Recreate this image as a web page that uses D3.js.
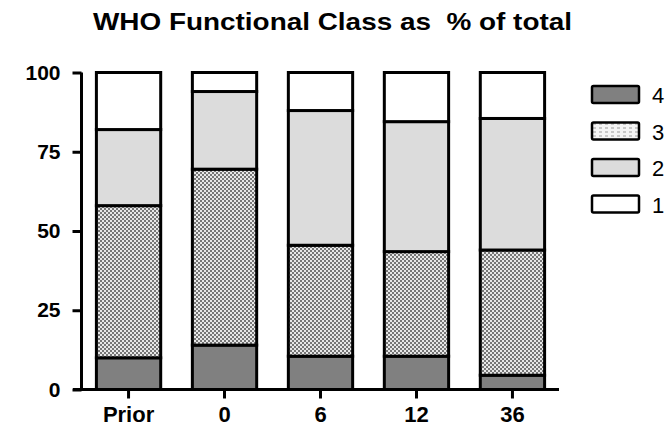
<!DOCTYPE html>
<html>
<head>
<meta charset="utf-8">
<script src="https://cdn.jsdelivr.net/npm/d3@7"></script>
<style>
  body { margin: 0; background: #fff; }
  svg { display: block; font-family: 'Liberation Sans', Arial, sans-serif; }
</style>
</head>
<body>
<svg id="chart" width="670" height="428"></svg>
<script>
const categories = ['Prior', '0', '6', '12', '36'];
const classKeys = ['4', '3', '2', '1'];
// segment sizes (% of total), stacked bottom-up: class 4, 3, 2, 1
const class4 = [10, 14, 10.5, 10.5, 4.5];
const class3 = [48, 55.5, 35, 33, 39.5];
const class2 = [24, 24.5, 42.5, 41, 41.5];
const class1 = [18, 6, 12, 15.5, 14.5];
const yTicks = [0, 25, 50, 75, 100];

const rows = categories.map((c, i) => ({
  label: c,
  '4': class4[i],
  '3': class3[i],
  '2': class2[i],
  '1': class1[i],
}));

const svg = d3.select('#chart');
const defs = svg.append('defs');

// checkerboard for class 3 bars
const checker = defs.append('pattern')
  .attr('id', 'checker')
  .attr('width', 4).attr('height', 4)
  .attr('patternUnits', 'userSpaceOnUse');
checker.append('rect').attr('width', 4).attr('height', 4).attr('fill', '#e8e8e8');
checker.append('rect').attr('width', 2).attr('height', 2).attr('fill', '#777');
checker.append('rect').attr('x', 2).attr('y', 2).attr('width', 2).attr('height', 2).attr('fill', '#777');

// dashed dots for legend swatch 3
const dots = defs.append('pattern')
  .attr('id', 'dots')
  .attr('width', 6).attr('height', 4)
  .attr('patternUnits', 'userSpaceOnUse');
dots.append('rect').attr('width', 6).attr('height', 4).attr('fill', '#f4f4f4');
dots.append('rect').attr('x', 1).attr('y', 1).attr('width', 3).attr('height', 1).attr('fill', '#9a9a9a');

const fills = {
  '4': '#808080',
  '3': 'url(#checker)',
  '2': '#dcdcdc',
  '1': '#ffffff',
};
const legendFills = { ...fills, '3': 'url(#dots)' };

const x = d3.scaleBand().domain(categories).range([82, 559])
  .paddingInner(0.33).paddingOuter(0.15);
const y = d3.scaleLinear().domain([0, 100]).range([389.5, 72.5]);

svg.append('text')
  .attr('x', 93)
  .attr('y', 30)
  .attr('font-size', 24)
  .attr('font-weight', 'bold')
  .attr('textLength', 479)
  .attr('lengthAdjust', 'spacingAndGlyphs')
  .style('white-space', 'pre')
  .text('WHO Functional Class as  % of total');

const stack = d3.stack().keys(classKeys)(rows);

svg.append('g')
  .selectAll('g')
  .data(stack)
  .join('g')
  .attr('fill', (s) => fills[s.key])
  .selectAll('rect')
  .data((s) => s)
  .join('rect')
  .attr('x', (d) => x(d.data.label))
  .attr('y', (d) => y(d[1]))
  .attr('width', x.bandwidth())
  .attr('height', (d) => y(d[0]) - y(d[1]))
  .attr('stroke', '#000')
  .attr('stroke-width', 3);

// y axis
const yAxis = svg.append('g')
  .attr('transform', 'translate(81.5,0)')
  .call(d3.axisLeft(y).tickValues(yTicks).tickSize(9).tickPadding(12));
yAxis.select('.domain').attr('d', `M0,${y(100)}V${y(0)}`).attr('stroke-width', 3);
yAxis.selectAll('.tick line').attr('stroke-width', 3);
yAxis.selectAll('.tick text')
  .attr('font-size', 21).attr('font-weight', 'bold')
  .attr('font-family', "'Liberation Sans', Arial, sans-serif")
  .attr('fill', '#000');

// x axis
const xAxis = svg.append('g')
  .attr('transform', `translate(0,${y(0)})`)
  .call(d3.axisBottom(x).tickSize(9).tickPadding(8));
xAxis.select('.domain').attr('d', 'M73,0H559').attr('stroke-width', 3);
xAxis.selectAll('.tick line').attr('stroke-width', 3);
xAxis.selectAll('.tick text')
  .attr('font-size', 22).attr('font-weight', 'bold')
  .attr('font-family', "'Liberation Sans', Arial, sans-serif")
  .attr('fill', '#000');

// legend
const legend = svg.append('g')
  .selectAll('g')
  .data(classKeys)
  .join('g')
  .attr('transform', (d, i) => `translate(592,${86 + i * 36.5})`);
legend.append('rect')
  .attr('width', 47)
  .attr('height', 17)
  .attr('rx', 1.5)
  .attr('fill', (d) => legendFills[d])
  .attr('stroke', '#000')
  .attr('stroke-width', 2.5);
legend.append('text')
  .attr('x', 60)
  .attr('y', 17)
  .attr('font-size', 22)
  .text((d) => d);
</script>
</body>
</html>
